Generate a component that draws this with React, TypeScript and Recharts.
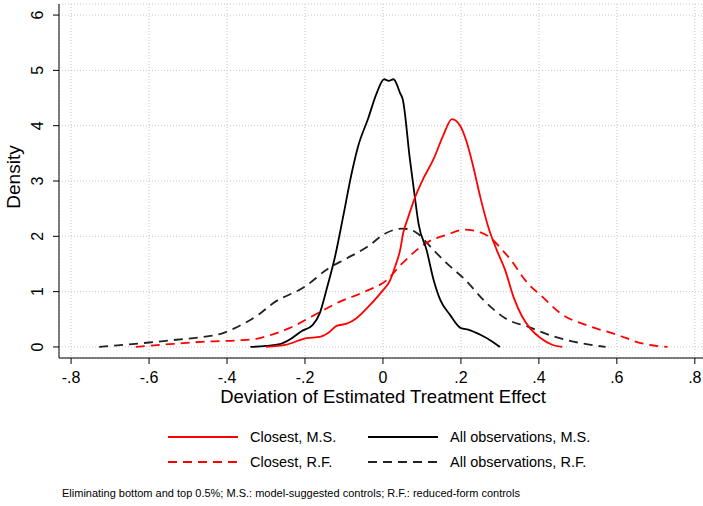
import React from "react";
import { LineChart, Line, XAxis, YAxis, CartesianGrid, Legend } from "recharts";

// Density estimates
const closestMsX = [-0.30, -0.248, -0.196, -0.162, -0.141, -0.119, -0.093, -0.068, -0.033, -0.003, 0.018, 0.031, 0.044, 0.052, 0.065, 0.082, 0.104, 0.13, 0.155, 0.177, 0.198, 0.215, 0.232, 0.25, 0.271, 0.292, 0.314, 0.335, 0.357, 0.378, 0.404, 0.434, 0.46];
const closestMsY = [0.0, 0.04, 0.16, 0.18, 0.25, 0.38, 0.42, 0.52, 0.76, 1.0, 1.2, 1.45, 1.75, 2.06, 2.35, 2.7, 3.05, 3.4, 3.83, 4.12, 4.0, 3.7, 3.25, 2.7, 2.15, 1.75, 1.38, 0.9, 0.55, 0.33, 0.16, 0.04, 0.0];

const allMsX = [-0.34, -0.30, -0.265, -0.24, -0.21, -0.18, -0.162, -0.145, -0.123, -0.102, -0.08, -0.064, -0.038, -0.016, 0.003, 0.015, 0.027, 0.044, 0.051, 0.069, 0.082, 0.091, 0.112, 0.13, 0.147, 0.172, 0.2, 0.22, 0.25, 0.28, 0.3];
const allMsY = [0.0, 0.02, 0.05, 0.13, 0.28, 0.4, 0.61, 1.03, 1.63, 2.36, 3.15, 3.62, 4.13, 4.59, 4.84, 4.81, 4.84, 4.59, 4.47, 3.4, 2.7, 2.24, 1.75, 1.21, 0.85, 0.58, 0.34, 0.31, 0.22, 0.1, 0.0];

const closestRfX = [-0.634, -0.548, -0.445, -0.368, -0.316, -0.3, -0.24, -0.17, -0.11, -0.046, 0.01, 0.048, 0.116, 0.164, 0.21, 0.25, 0.27, 0.284, 0.305, 0.335, 0.352, 0.374, 0.404, 0.455, 0.532, 0.601, 0.661, 0.73];
const closestRfY = [0.0, 0.05, 0.1, 0.12, 0.16, 0.19, 0.34, 0.6, 0.82, 1.0, 1.21, 1.5, 1.9, 2.03, 2.12, 2.07, 2.0, 1.92, 1.76, 1.51, 1.33, 1.13, 0.94, 0.61, 0.37, 0.22, 0.07, 0.0];

const allRfX = [-0.728, -0.66, -0.6, -0.53, -0.462, -0.41, -0.38, -0.316, -0.282, -0.2, -0.14, -0.093, -0.04, 0.006, 0.048, 0.065, 0.085, 0.13, 0.164, 0.21, 0.262, 0.318, 0.37, 0.438, 0.507, 0.571];
const allRfY = [0.0, 0.04, 0.08, 0.13, 0.18, 0.25, 0.34, 0.6, 0.79, 1.09, 1.42, 1.6, 1.81, 2.05, 2.14, 2.13, 2.07, 1.75, 1.51, 1.22, 0.82, 0.5, 0.37, 0.19, 0.07, 0.0];

const xTicks = [-0.8, -0.6, -0.4, -0.2, 0, 0.2, 0.4, 0.6, 0.8];
const yTicks = [0, 1, 2, 3, 4, 5, 6];

const seriesNames = ["Closest, M.S.", "All observations, M.S.", "Closest, R.F.", "All observations, R.F."];

const toPoints = (xs: number[], ys: number[]) => xs.map((x, i) => ({ x, y: ys[i] }));

const FONT = "'Liberation Sans', Arial, Helvetica, sans-serif";
const DASH = "9 6";

const fmtX = (v: number) => (v === 0 ? "0" : v.toFixed(1).replace("0.", "."));

const YTick = (props: any) => {
  const { x, y, payload } = props;
  return (
    <text
      x={x}
      y={y}
      transform={`rotate(-90 ${x} ${y})`}
      textAnchor="middle"
      fontSize={16}
      fontFamily={FONT}
      fill="#000"
    >
      {payload.value}
    </text>
  );
};

const DensityLabel = (props: any) => {
  const { viewBox } = props;
  const cy = viewBox.y + viewBox.height / 2 - 4;
  return (
    <text
      x={20}
      y={cy}
      transform={`rotate(-90 20 ${cy})`}
      textAnchor="middle"
      fontSize={19}
      fontFamily={FONT}
      fill="#000"
    >
      Density
    </text>
  );
};

const XTitle = (props: any) => {
  const { viewBox } = props;
  return (
    <text
      x={viewBox.x + viewBox.width / 2 + 2}
      y={403}
      textAnchor="middle"
      fontSize={18.5}
      fontFamily={FONT}
      fill="#000"
    >
      Deviation of Estimated Treatment Effect
    </text>
  );
};

const legendItems = [
  { name: seriesNames[0], color: "#ff0000", dash: undefined, col: 0, row: 0 },
  { name: seriesNames[1], color: "#000000", dash: undefined, col: 1, row: 0 },
  { name: seriesNames[2], color: "#ff0000", dash: DASH, col: 0, row: 1 },
  { name: seriesNames[3], color: "#222222", dash: DASH, col: 1, row: 1 },
];

const LegendBox = () => (
  <div style={{ position: "relative", width: 703, height: 60, fontFamily: FONT }}>
    {legendItems.map((it) => (
      <div
        key={it.name}
        style={{
          position: "absolute",
          left: 168 + it.col * 200,
          top: 7 + it.row * 25,
          display: "flex",
          alignItems: "center",
          height: 20,
        }}
      >
        <svg width={70} height={4} style={{ display: "block" }}>
          <line x1={0} y1={2} x2={70} y2={2} stroke={it.color} strokeWidth={1.8} strokeDasharray={it.dash} />
        </svg>
        <span style={{ marginLeft: 12, fontSize: 14.5, color: "#000", whiteSpace: "nowrap" }}>{it.name}</span>
      </div>
    ))}
  </div>
);

export default function App() {
  return (
    <div style={{ position: "absolute", left: 0, top: 0, width: 703, height: 506, background: "#fff" }}>
      <LineChart width={703} height={506} margin={{ top: 4, right: 0, bottom: 98, left: 0 }}>
        <CartesianGrid stroke="#c8c8c8" strokeDasharray="1 2" />
        <XAxis
          type="number"
          dataKey="x"
          domain={[-0.831, 0.821]}
          allowDataOverflow
          ticks={xTicks}
          tickFormatter={fmtX}
          interval={0}
          height={50}
          tickSize={6}
          tickMargin={8}
          stroke="#000"
          tick={{ fill: "#000", fontSize: 16, fontFamily: FONT }}
          label={<XTitle />}
        />
        <YAxis
          type="number"
          dataKey="y"
          domain={[-0.2, 6.2]}
          allowDataOverflow
          ticks={yTicks}
          interval={0}
          width={59}
          tickSize={6}
          tickMargin={10}
          stroke="#000"
          tick={<YTick />}
          label={<DensityLabel />}
        />
        <Legend
          layout="horizontal"
          verticalAlign="middle"
          align="center"
          wrapperStyle={{ position: "absolute", top: 420, left: 0, width: 703 }}
          content={() => <LegendBox />}
        />
        <Line
          data={toPoints(allRfX, allRfY)}
          dataKey="y"
          name={seriesNames[3]}
          type="monotone"
          stroke="#222222"
          strokeWidth={1.8}
          strokeDasharray={DASH}
          dot={false}
          activeDot={false}
          isAnimationActive={false}
        />
        <Line
          data={toPoints(closestRfX, closestRfY)}
          dataKey="y"
          name={seriesNames[2]}
          type="monotone"
          stroke="#ff0000"
          strokeWidth={1.8}
          strokeDasharray={DASH}
          dot={false}
          activeDot={false}
          isAnimationActive={false}
        />
        <Line
          data={toPoints(allMsX, allMsY)}
          dataKey="y"
          name={seriesNames[1]}
          type="monotone"
          stroke="#000000"
          strokeWidth={1.8}
          dot={false}
          activeDot={false}
          isAnimationActive={false}
        />
        <Line
          data={toPoints(closestMsX, closestMsY)}
          dataKey="y"
          name={seriesNames[0]}
          type="monotone"
          stroke="#ff0000"
          strokeWidth={1.8}
          dot={false}
          activeDot={false}
          isAnimationActive={false}
        />
      </LineChart>
      <div
        style={{
          position: "absolute",
          left: 62,
          top: 487,
          fontSize: 11,
          fontFamily: FONT,
          color: "#000",
          whiteSpace: "nowrap",
        }}
      >
        Eliminating bottom and top 0.5%; M.S.: model-suggested controls; R.F.: reduced-form controls
      </div>
    </div>
  );
}
